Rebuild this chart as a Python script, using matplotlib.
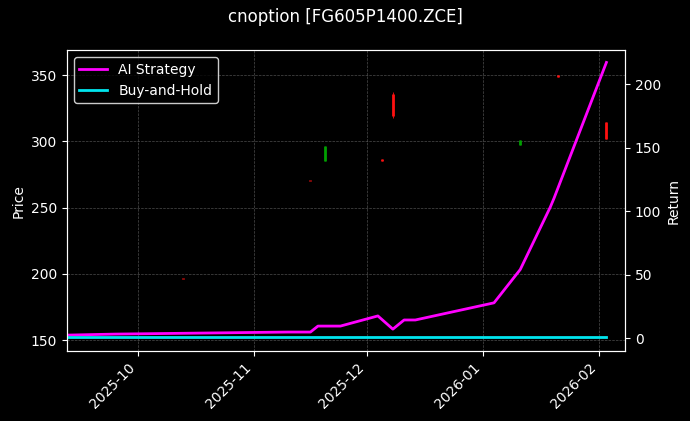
import matplotlib
matplotlib.use("Agg")
import matplotlib.pyplot as plt
import matplotlib.dates as mdates
import pandas as pd

plt.style.use("dark_background")

candle_dates = ["2025-10-13", "2025-11-16", "2025-11-20", "2025-12-05", "2025-12-08", "2026-01-11", "2026-01-21", "2026-02-03"]
c_open = [196.5, 270.5, 285.6, 286, 335, 297, 349.5, 314]
c_close = [196, 270, 296, 285.6, 319, 300.8, 349, 302]
c_high = [196.5, 270.5, 296.5, 286.5, 337, 301, 350, 314.5]
c_low = [196, 270, 285, 285.5, 318, 297, 349, 302]

line_dates = ["2025-09-12", "2025-09-25", "2025-11-10", "2025-11-16", "2025-11-18", "2025-11-24",
              "2025-12-04", "2025-12-08", "2025-12-11", "2025-12-14", "2026-01-04", "2026-01-11",
              "2026-01-19", "2026-01-20", "2026-02-03"]
ai_ret = [2.4, 3.2, 4.8, 4.8, 9.5, 9.5, 17.5, 7.1, 14.3, 14.3, 27.8, 54, 103, 110, 217]
bh_ret = [1.0] * len(line_dates)

cd = pd.to_datetime(candle_dates)
ld = pd.to_datetime(line_dates)

fig, ax = plt.subplots(figsize=(6.9, 4.21), dpi=100)
fig.patch.set_facecolor("black")
ax.set_facecolor("black")
for d, o, c, h, l in zip(cd, c_open, c_close, c_high, c_low):
    col = "#00a000" if c >= o else "#ff1010"
    ax.vlines(d, l, h, color=col, linewidth=0.6)
    ax.vlines(d, min(o, c), max(o, c) + 0.6, color=col, linewidth=2)
ax.set_ylim(141.7, 369)
ax.set_ylabel("Price")
ax.grid(True, linestyle="--", linewidth=0.5, color="gray", alpha=0.6)

ax2 = ax.twinx()
ax2.plot(ld, ai_ret, color="#ff00ff", linewidth=2, label="AI Strategy")
ax2.plot(ld, bh_ret, color="#00e5ee", linewidth=2, label="Buy-and-Hold")
ax2.set_ylim(-10.2, 226.7)
ax2.set_ylabel("Return")
ax2.legend(loc="upper left", edgecolor="white", facecolor="black")

ax.set_xlim(pd.Timestamp("2025-09-12"), pd.Timestamp("2026-02-08"))
ax.xaxis.set_major_locator(mdates.MonthLocator())
ax.xaxis.set_major_formatter(mdates.DateFormatter("%Y-%m"))
plt.setp(ax.get_xticklabels(), rotation=45, ha="right")

fig.suptitle("cnoption [FG605P1400.ZCE]")
fig.subplots_adjust(left=0.097, right=0.906, top=0.881, bottom=0.166)
fig.savefig("out.png", dpi=100, facecolor="black")
